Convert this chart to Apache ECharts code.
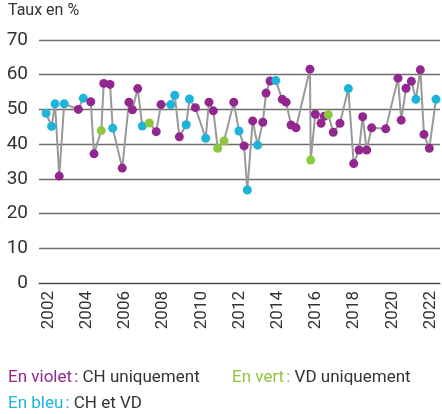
<!DOCTYPE html>
<html>
<head>
<meta charset="utf-8">
<script src="https://cdn.jsdelivr.net/npm/echarts@6/dist/echarts.min.js"></script>
<style>
  html, body { margin: 0; padding: 0; background: #fff; }
  #chart { width: 442px; height: 414px; }
</style>
</head>
<body>
<div id="chart"></div>
<script>
// annees (axe des categories)
const years = ['2002','2003','2004','2005','2006','2007','2008','2009','2010','2011','2012',
  '2013','2014','2015','2016','2017','2018','2019','2020','2021','2022'];
const yTicks = [0, 10, 20, 30, 40, 50, 60, 70];

// date du scrutin (annee decimale), taux en %, groupe
const dates = [2002.37,2002.66,2002.84,2003.06,2003.32,2004.06,2004.32,2004.71,2004.88,2005.26,
  2005.39,2005.72,2005.86,2006.36,2006.71,2006.89,2007.17,2007.41,2007.78,2008.14,
  2008.39,2008.90,2009.11,2009.35,2009.71,2009.88,2010.19,2010.73,2010.90,2011.13,
  2011.36,2011.69,2012.20,2012.47,2012.74,2012.91,2013.19,2013.45,2013.72,2013.89,
  2014.10,2014.40,2014.74,2014.94,2015.20,2015.46,2016.19,2016.23,2016.47,2016.77,
  2016.94,2017.15,2017.41,2017.76,2018.20,2018.48,2018.76,2018.95,2019.16,2019.42,
  2020.16,2020.80,2020.97,2021.22,2021.50,2021.74,2021.97,2022.16,2022.44,2022.79];
const rates = [48.9,45.1,51.6,30.8,51.6,50.0,53.2,52.2,37.2,43.9,
  57.5,57.2,44.6,33.1,52.1,49.9,56.0,45.2,46.1,43.6,
  51.4,51.4,54.1,42.1,45.6,53.0,50.5,41.7,52.1,49.6,
  38.8,40.9,52.1,43.8,39.5,26.8,46.7,39.7,46.3,54.7,
  58.2,58.3,52.9,52.1,45.5,44.7,61.6,35.4,48.6,46.0,
  48.0,48.5,43.4,46.0,56.0,34.4,38.3,47.9,38.3,44.7,
  44.4,59.0,46.9,56.1,58.1,52.9,61.4,42.8,38.8,52.9];
// CH = CH uniquement, VD = VD uniquement, B = CH et VD
const groups = ['B','B','B','CH','B','CH','B','CH','CH','VD',
  'CH','CH','B','CH','CH','CH','CH','B','VD','CH',
  'CH','B','B','CH','B','B','CH','B','CH','CH',
  'VD','VD','CH','B','CH','B','CH','B','CH','CH',
  'CH','B','CH','CH','CH','CH','CH','VD','CH','CH',
  'CH','VD','CH','CH','B','CH','CH','CH','CH','CH',
  'CH','CH','CH','CH','CH','B','CH','CH','CH','B'];

const colors = { CH: '#92278f', VD: '#8dc63f', B: '#1cb5d9' };
const fontFam = '"Liberation Sans Narrow", "Roboto", "Liberation Sans", sans-serif';

const chart = echarts.init(document.getElementById('chart'));

const option = {
  animation: false,
  grid: { left: 39, right: 2, top: 40, bottom: 131 },
  xAxis: [
    {
      type: 'category',
      data: years,
      boundaryGap: true,
      axisLine: { lineStyle: { color: '#444', width: 1.2 } },
      axisTick: { interval: 0, length: 5, lineStyle: { color: '#444' } },
      axisLabel: {
        interval: 1, rotate: 90, color: '#333', fontSize: 17,
        fontFamily: fontFam, margin: 8
      },
      splitLine: { show: false }
    },
    { type: 'value', min: 2002, max: 2023, show: false }
  ],
  yAxis: {
    type: 'value',
    min: yTicks[0],
    max: yTicks[yTicks.length - 1],
    interval: 10,
    axisLine: { show: false },
    axisTick: { show: false },
    axisLabel: { color: '#333', fontSize: 19, fontFamily: fontFam, margin: 11 },
    splitLine: { lineStyle: { color: '#6e6e6e', width: 1.3 } }
  },
  series: [{
    type: 'line',
    xAxisIndex: 1,
    data: dates.map((d, i) => [d, rates[i]]),
    symbol: 'circle',
    symbolSize: 9,
    lineStyle: { color: '#999', width: 2 },
    itemStyle: { color: p => colors[groups[p.dataIndex]] },
    z: 3
  }],
  graphic: [
    {
      type: 'text', left: 8, top: 3,
      style: { text: 'Taux en %', fontSize: 16, fill: '#333', fontFamily: fontFam }
    },
    {
      type: 'text', left: 8, top: 369,
      style: {
        text: '{v|En violet\u202F:} CH uniquement',
        fontSize: 17, fill: '#333', fontFamily: fontFam,
        rich: { v: { fill: colors.CH, fontSize: 17, fontFamily: fontFam } }
      }
    },
    {
      type: 'text', left: 232, top: 369,
      style: {
        text: '{g|En vert\u202F:} VD uniquement',
        fontSize: 17, fill: '#333', fontFamily: fontFam,
        rich: { g: { fill: colors.VD, fontSize: 17, fontFamily: fontFam } }
      }
    },
    {
      type: 'text', left: 8, top: 395,
      style: {
        text: '{b|En bleu\u202F:} CH et VD',
        fontSize: 17, fill: '#333', fontFamily: fontFam,
        rich: { b: { fill: colors.B, fontSize: 17, fontFamily: fontFam } }
      }
    }
  ]
};

chart.setOption(option);
</script>
</body>
</html>
